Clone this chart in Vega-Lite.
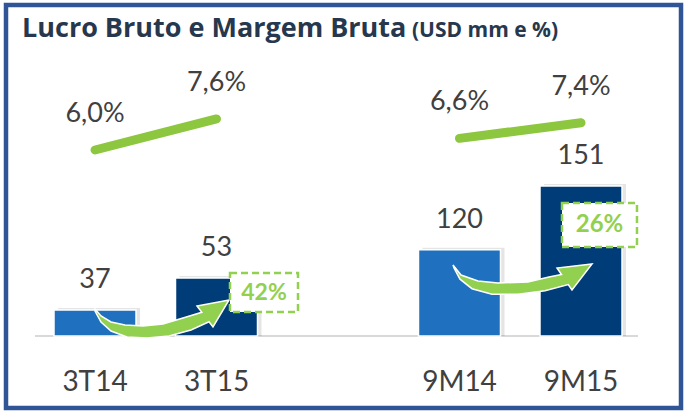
{
  "$schema": "https://vega.github.io/schema/vega-lite/v6.json",
  "width": 685,
  "height": 416,
  "autosize": {"type": "fit", "contains": "padding"},
  "padding": {"left": 6, "top": 5, "right": 4, "bottom": 8},
  "background": "white",
  "config": {
    "view": {"stroke": "#2f5597", "strokeWidth": 4.5},
    "font": "Lato",
    "locale": {"number": {"decimal": ",", "thousands": ".", "grouping": [3], "currency": ["", ""]}}
  },
  "datasets": {
    "d": [
      {"periodo": "3T14", "grupo": "T", "lucro": 37, "margem": 0.060},
      {"periodo": "3T15", "grupo": "T", "lucro": 53, "margem": 0.076, "var": 0.42},
      {"periodo": "9M14", "grupo": "M", "lucro": 120, "margem": 0.066},
      {"periodo": "9M15", "grupo": "M", "lucro": 151, "margem": 0.074, "var": 0.26}
    ]
  },
  "data": {"name": "d"},
  "encoding": {
    "x": {
      "field": "periodo", "type": "nominal",
      "scale": {"domain": ["3T14", "3T15", " ", "9M14", "9M15"], "paddingInner": 0.325, "paddingOuter": 0.4403, "align": 0.4486},
      "axis": {"title": null, "orient": "bottom", "offset": -26, "domain": false, "ticks": false, "tickSize": 0, "grid": false,
               "labelPadding": 0, "labelBaseline": "middle", "labelAngle": 0, "labelFont": "Lato", "labelFontSize": 28, "labelColor": "#404040"}
    }
  },
  "layer": [
    {
      "transform": [{"filter": "datum.grupo == 'T'"}],
      "encoding": {"y": {"field": "lucro", "type": "quantitative", "scale": {"domain": [-12, 189.5], "zero": false, "nice": false}, "axis": null}},
      "layer": [
        {
          "transform": [{"filter": "datum.periodo == '3T14'"}],
          "mark": {"type": "rule", "color": "#d9d9d9", "strokeWidth": 2, "xOffset": -60, "x2Offset": 57},
          "encoding": {"x": {"datum": "3T14", "type": "nominal"}, "x2": {"datum": "9M15"}, "y": {"datum": 24, "type": "quantitative"}}
        },
        {
          "mark": {"type": "bar", "color": "#000000", "opacity": 0.1, "xOffset": 4, "yOffset": -2},
          "encoding": {"y2": {"datum": 24}}
        },
        {
          "mark": {"type": "bar", "stroke": "white", "strokeWidth": 1.5},
          "encoding": {
            "y2": {"datum": 24},
            "color": {"field": "periodo", "type": "nominal", "scale": {"domain": ["3T14", "3T15", "9M14", "9M15"], "range": ["#1f71bf", "#003c78", "#1f71bf", "#003c78"]}, "legend": null}
          }
        },
        {
          "mark": {"type": "text", "baseline": "middle", "dy": -30, "fontSize": 27, "color": "#404040"},
          "encoding": {"text": {"field": "lucro", "type": "quantitative"}}
        },
        {
          "transform": [{"filter": "datum.periodo == '3T14'"}],
          "mark": {"type": "point", "filled": true, "opacity": 1, "fill": "#92d050", "stroke": "white", "strokeWidth": 1.5, "size": 40000,
                   "shape": "M0,-0.01L0.06,0.06L0.16,0.12L0.30,0.15L0.48,0.16L0.68,0.14L0.88,0.08L1.068,0.023L1.02,-0.04L1.34,-0.10L1.18,0.17L1.14,0.1175L0.96,0.20L0.74,0.26L0.52,0.28L0.32,0.27L0.16,0.21L0.06,0.12L0,0.01Z"}
        },
        {
          "transform": [{"filter": "datum.periodo == '3T15'"}],
          "mark": {"type": "point", "filled": true, "opacity": 1, "fill": "white", "stroke": "#92d050", "strokeWidth": 2.5, "strokeDash": [7, 4], "size": 40000,
                   "shape": "M0.135,-0.05H0.815V0.34H0.135Z"}
        },
        {
          "transform": [{"filter": "datum.periodo == '3T15'"}],
          "mark": {"type": "text", "baseline": "middle", "dx": 47.5, "dy": 14.5, "fontSize": 23, "fontWeight": "bold", "color": "#92d050"},
          "encoding": {"text": {"field": "var", "type": "quantitative", "format": ".0%"}}
        },
        {
          "transform": [{"filter": "datum.periodo == '3T14'"}],
          "mark": {"type": "text", "text": "Lucro Bruto e Margem Bruta", "align": "left", "baseline": "alphabetic", "dx": -32, "font": "Open Sans", "fontSize": 27, "fontWeight": "bold", "color": "#27374d"},
          "encoding": {"x": {"datum": "3T14", "type": "nominal", "bandPosition": 0}, "y": {"datum": 173.5, "type": "quantitative"}}
        },
        {
          "transform": [{"filter": "datum.periodo == '3T14'"}],
          "mark": {"type": "text", "text": "(USD mm e %)", "align": "left", "baseline": "alphabetic", "dx": 358, "font": "Open Sans", "fontSize": 21, "fontWeight": "bold", "color": "#27374d"},
          "encoding": {"x": {"datum": "3T14", "type": "nominal", "bandPosition": 0}, "y": {"datum": 173.5, "type": "quantitative"}}
        }
      ]
    },
    {
      "transform": [{"filter": "datum.grupo == 'M'"}],
      "encoding": {"y": {"field": "lucro", "type": "quantitative", "scale": {"domain": [42.96, 239.09], "zero": false, "nice": false}, "axis": null}},
      "layer": [
        {
          "mark": {"type": "bar", "color": "#000000", "opacity": 0.1, "xOffset": 4, "yOffset": -2},
          "encoding": {"y2": {"datum": 78}}
        },
        {
          "mark": {"type": "bar", "stroke": "white", "strokeWidth": 1.5},
          "encoding": {
            "y2": {"datum": 78},
            "color": {"field": "periodo", "type": "nominal", "scale": {"domain": ["3T14", "3T15", "9M14", "9M15"], "range": ["#1f71bf", "#003c78", "#1f71bf", "#003c78"]}, "legend": null}
          }
        },
        {
          "mark": {"type": "text", "baseline": "middle", "dy": -30, "fontSize": 27, "color": "#404040"},
          "encoding": {"text": {"field": "lucro", "type": "quantitative"}}
        },
        {
          "transform": [{"filter": "datum.periodo == '9M14'"}],
          "mark": {"type": "point", "filled": true, "opacity": 1, "fill": "#92d050", "stroke": "white", "strokeWidth": 1.5, "size": 40000,
                   "shape": "M-0.065,0.153L0.015,0.253L0.185,0.313L0.385,0.333L0.685,0.323L0.895,0.273L1.02,0.249L0.975,0.183L1.325,0.143L1.125,0.403L1.0875,0.348L0.855,0.41L0.585,0.445L0.325,0.445L0.125,0.39L0.005,0.295L-0.055,0.183Z"}
        },
        {
          "transform": [{"filter": "datum.periodo == '9M15'"}],
          "mark": {"type": "point", "filled": true, "opacity": 1, "fill": "white", "stroke": "#92d050", "strokeWidth": 2.5, "strokeDash": [7, 4], "size": 40000,
                   "shape": "M-0.19,0.17H0.56V0.61H-0.19Z"}
        },
        {
          "transform": [{"filter": "datum.periodo == '9M15'"}],
          "mark": {"type": "text", "baseline": "middle", "dx": 18.5, "dy": 39, "fontSize": 24, "fontWeight": "bold", "color": "#92d050"},
          "encoding": {"text": {"field": "var", "type": "quantitative", "format": ".0%"}}
        }
      ]
    },
    {
      "encoding": {"y": {"field": "margem", "type": "quantitative", "scale": {"domain": [-0.07299, 0.13474], "zero": false, "nice": false}, "axis": null}},
      "layer": [
        {
          "mark": {"type": "line", "color": "#8dc63f", "strokeWidth": 9, "strokeCap": "round"},
          "encoding": {"detail": {"field": "grupo", "type": "nominal"}}
        },
        {
          "mark": {"type": "text", "baseline": "middle", "dy": -36, "fontSize": 27, "color": "#404040"},
          "encoding": {"text": {"field": "margem", "type": "quantitative", "format": ".1%"}}
        }
      ]
    }
  ],
  "resolve": {"scale": {"y": "independent"}}
}
